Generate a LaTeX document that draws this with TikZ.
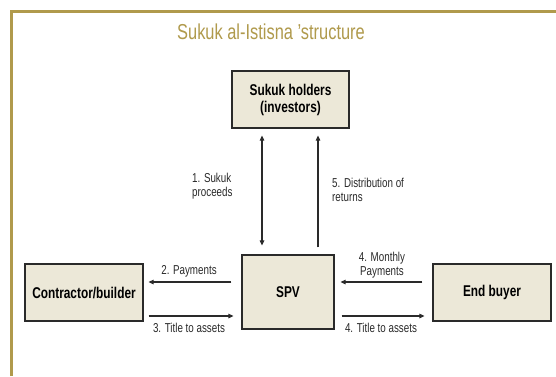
\documentclass[tikz,border=0pt]{standalone}
\usepackage{fontspec}
\setmainfont[FakeStretch=0.76]{Liberation Sans}
\usetikzlibrary{arrows.meta}
\definecolor{gold}{HTML}{B09A4C}
\definecolor{boxfill}{HTML}{ECE8D8}
\definecolor{ink}{HTML}{2A2A2A}
\tikzset{
  party/.style={draw=ink, line width=1.2pt, fill=boxfill, inner sep=2pt, align=center,
    font=\fontsize{15.6}{17}\selectfont\bfseries},
  flow/.style={draw=ink, line width=1.1pt, -{Triangle[length=5pt,width=4.5pt]}},
  lbl/.style={font=\fontsize{12.9}{14.5}\selectfont, text=ink, inner sep=0pt},
}
\begin{document}
\begin{tikzpicture}[x=1pt,y=-1pt]
\useasboundingbox (0,0) rectangle (556,376);
\fill[white] (0,0) rectangle (556,376);
% frame
\draw[gold, line width=3pt] (11,376) -- (11,11) -- (556,11);
\node[text=gold, font=\fontsize{21.6}{23}\selectfont, inner sep=0pt] (title) at (271,32) {Sukuk al-Istisna ’structure};
% parties
\node[party, minimum width=117pt, minimum height=57pt] (holders) at (290.5,99.5) {Sukuk holders\\(investors)};
\node[party, minimum width=92pt, minimum height=74pt] (spv) at (288,292) {SPV};
\node[party, minimum width=118pt, minimum height=57pt] (contractor) at (84,292.5) {Contractor/builder};
\node[party, minimum width=118pt, minimum height=57pt] (buyer) at (492,292.5) {End buyer};
% helper coordinates
\coordinate (xa) at (262,0);
\coordinate (xb) at (318,0);
\coordinate (ya) at (0,282);
\coordinate (yb) at (0,316);
% vertical flows
\draw[flow, {Triangle[length=5pt,width=4.5pt]}-{Triangle[length=5pt,width=4.5pt]}, shorten <=7pt, shorten >=9pt] (holders.south -| xa) -- (spv.north -| xa);
\draw[flow, shorten <=7pt, shorten >=7pt] (spv.north -| xb) -- (holders.south -| xb);
% horizontal flows
\draw[flow, shorten <=10pt, shorten >=5pt] (spv.west |- ya) -- (contractor.east |- ya);
\draw[flow, shorten <=5pt, shorten >=8pt] (contractor.east |- yb) -- (spv.west |- yb);
\draw[flow, shorten <=10pt, shorten >=6pt] (buyer.west |- ya) -- (spv.east |- ya);
\draw[flow, shorten <=7pt, shorten >=8pt] (spv.east |- yb) -- (buyer.west |- yb);
% labels
\node[lbl, align=left, anchor=west] (l1) at (192,186) {1. Sukuk\\proceeds};
\node[lbl, align=left, anchor=west] (l5) at (332,190) {5. Distribution of\\returns};
\node[lbl] (l2) at (189,271) {2. Payments};
\node[lbl] (l3) at (189,328) {3. Title to assets};
\node[lbl, align=center] (l4a) at (382,265) {4. Monthly\\Payments};
\node[lbl] (l4b) at (381,328) {4. Title to assets};
\end{tikzpicture}
\end{document}
